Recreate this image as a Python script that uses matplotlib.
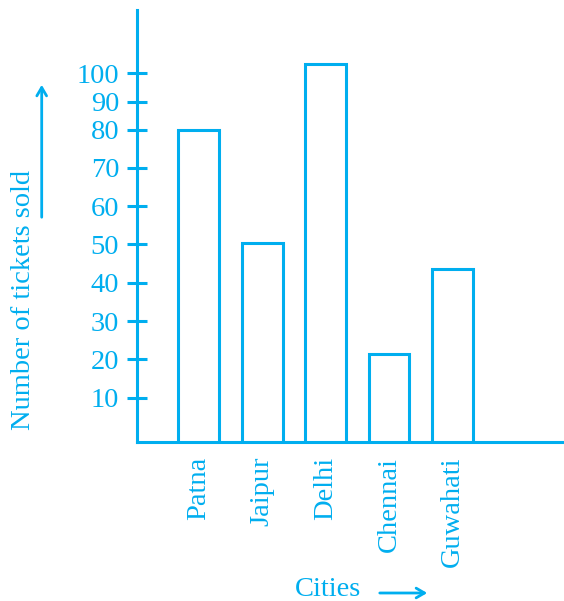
import matplotlib
matplotlib.use("Agg")
import matplotlib.pyplot as plt

# ---- data ----
cities = ["Patna", "Jaipur", "Delhi", "Chennai", "Guwahati"]
tickets = [80, 50.5, 97, 21.4, 43.7]
ytick_values = [10, 20, 30, 40, 50, 60, 70, 80, 87.3, 94.7]
ytick_labels = ["10", "20", "30", "40", "50", "60", "70", "80", "90", "100"]

COL = "#00AEEF"
W, H = 564, 601
plt.rcParams["font.family"] = ["Liberation Serif", "DejaVu Serif"]

fig = plt.figure(figsize=(W / 100, H / 100), dpi=100)
ax = fig.add_axes([137 / W, (H - 441.7) / H, 1 - 137 / W, 431.7 / H])

ax.set_xlim(-0.973, 5.76)
ax.set_ylim(-1.49, 111.2)
ybot = ax.get_ylim()[0]
x = list(range(len(cities)))
ax.bar(x, [t - ybot for t in tickets], bottom=ybot, width=0.645,
       facecolor="white", edgecolor=COL, linewidth=2.2, zorder=3)

for s in ["top", "right"]:
    ax.spines[s].set_visible(False)
for s in ["left", "bottom"]:
    ax.spines[s].set_color(COL)
    ax.spines[s].set_linewidth(2.2)

ax.set_yticks(ytick_values)
ax.set_yticklabels(ytick_labels, fontsize=20.5, color=COL)
ax.tick_params(axis="y", direction="inout", length=14.5, width=2.2, color=COL, pad=5.5)

ax.set_xticks(x)
ax.set_xticklabels(cities, rotation=90, fontsize=20.5, color=COL, va="top")
ax.tick_params(axis="x", length=0, pad=11)

fig.text(24 / W, (H - 300) / H, "Number of tickets sold", rotation=90,
         fontsize=20.5, color=COL, ha="center", va="center")
fig.text(328 / W, (H - 590) / H, "Cities", fontsize=20.5, color=COL,
         ha="center", va="center")

arrow_kw = dict(arrowstyle="->,head_length=0.6,head_width=0.35", color=COL, lw=2)
ax.annotate("", xy=(41.7 / W, (H - 82) / H), xytext=(41.7 / W, (H - 220) / H),
            xycoords="figure fraction", textcoords="figure fraction",
            arrowprops=arrow_kw, annotation_clip=False)
ax.annotate("", xy=(430 / W, (H - 593) / H), xytext=(377 / W, (H - 593) / H),
            xycoords="figure fraction", textcoords="figure fraction",
            arrowprops=arrow_kw, annotation_clip=False)

fig.savefig("out.png", dpi=100)
